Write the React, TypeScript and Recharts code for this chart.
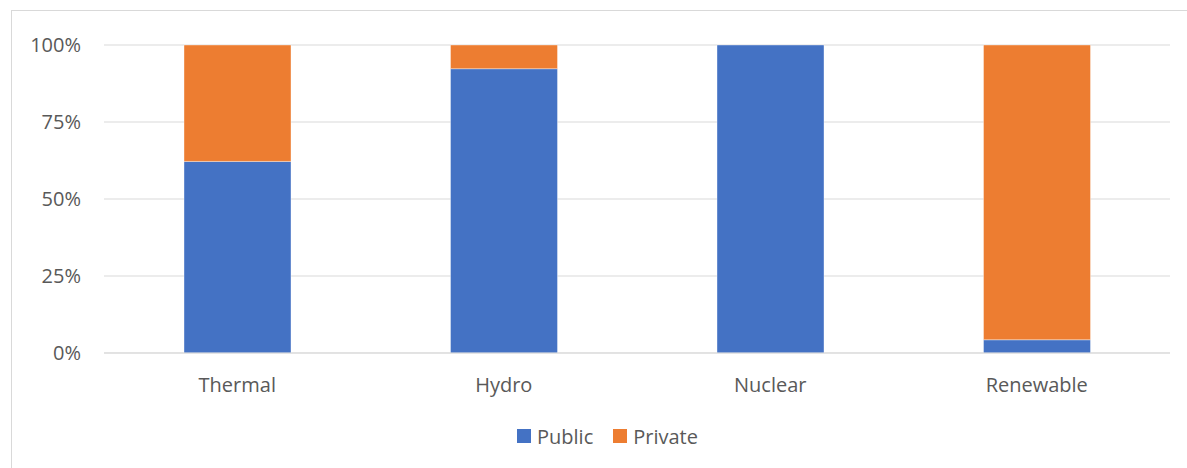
import React from "react";
import { BarChart, Bar, XAxis, YAxis, CartesianGrid, Legend } from "recharts";

// Ownership share (%) of generation capacity by source
const categories = ["Thermal", "Hydro", "Nuclear", "Renewable"];
const publicShare = [62.2, 92.3, 100, 4.3];
const privateShare = [37.8, 7.7, 0, 95.7];
const yTicks = [0, 25, 50, 75, 100];

const seriesNames = { public: "Public", private: "Private" };
const colors = { public: "#4472C4", private: "#ED7D31" };

const data = categories.map((name, i) => ({
  name,
  public: publicShare[i],
  private: privateShare[i],
}));

const FONT = "'Open Sans', 'Noto Sans', sans-serif";
const TEXT = "#595959";
const GRID = "#d9d9d9";

const LegendContent = () => (
  <div
    style={{
      display: "flex",
      alignItems: "center",
      height: 30,
      paddingLeft: 517,
      fontFamily: FONT,
      fontSize: 20,
      color: TEXT,
    }}
  >
    {(["public", "private"] as const).map((key, i) => (
      <div
        key={key}
        style={{ display: "flex", alignItems: "center", marginRight: i === 0 ? 20 : 0 }}
      >
        <span
          style={{
            display: "inline-block",
            width: 14,
            height: 14,
            background: colors[key],
            marginRight: 6,
          }}
        />
        <span>{seriesNames[key]}</span>
      </div>
    ))}
  </div>
);

export default function App() {
  return (
    <div
      style={{
        position: "absolute",
        top: 0,
        left: 0,
        width: 1187,
        height: 468,
        overflow: "hidden",
        background: "#fff",
      }}
    >
      <div
        style={{
          position: "absolute",
          left: 11,
          top: 10,
          width: 1200,
          height: 480,
          border: `1px solid ${GRID}`,
          boxSizing: "border-box",
        }}
      />
      <BarChart
        width={1187}
        height={468}
        data={data}
        margin={{ top: 45, right: 17, left: 0, bottom: 55 }}
        style={{ position: "absolute", top: 0, left: 0 }}
      >
        <CartesianGrid vertical={false} stroke={GRID} strokeWidth={1} />
        <XAxis
          dataKey="name"
          height={30}
          axisLine={{ stroke: GRID }}
          tickLine={false}
          tickMargin={19}
          tick={{ fill: TEXT, fontSize: 20, fontFamily: FONT }}
        />
        <YAxis
          width={104}
          domain={[0, 100]}
          ticks={yTicks}
          tickFormatter={(v: number) => `${v}%`}
          axisLine={false}
          tickLine={false}
          tickMargin={17}
          tick={{ fill: TEXT, fontSize: 20, fontFamily: FONT }}
        />
        <Legend
          verticalAlign="bottom"
          content={<LegendContent />}
          wrapperStyle={{ left: 0, width: 1187, top: 421, bottom: "auto" }}
        />
        <Bar
          dataKey="public"
          name={seriesNames.public}
          stackId="a"
          fill={colors.public}
          barSize={107}
          stroke="#ffffff"
          strokeOpacity={0.5}
          strokeWidth={0.75}
          isAnimationActive={false}
        />
        <Bar
          dataKey="private"
          name={seriesNames.private}
          stackId="a"
          fill={colors.private}
          barSize={107}
          stroke="#ffffff"
          strokeOpacity={0.5}
          strokeWidth={0.75}
          isAnimationActive={false}
        />
      </BarChart>
    </div>
  );
}
